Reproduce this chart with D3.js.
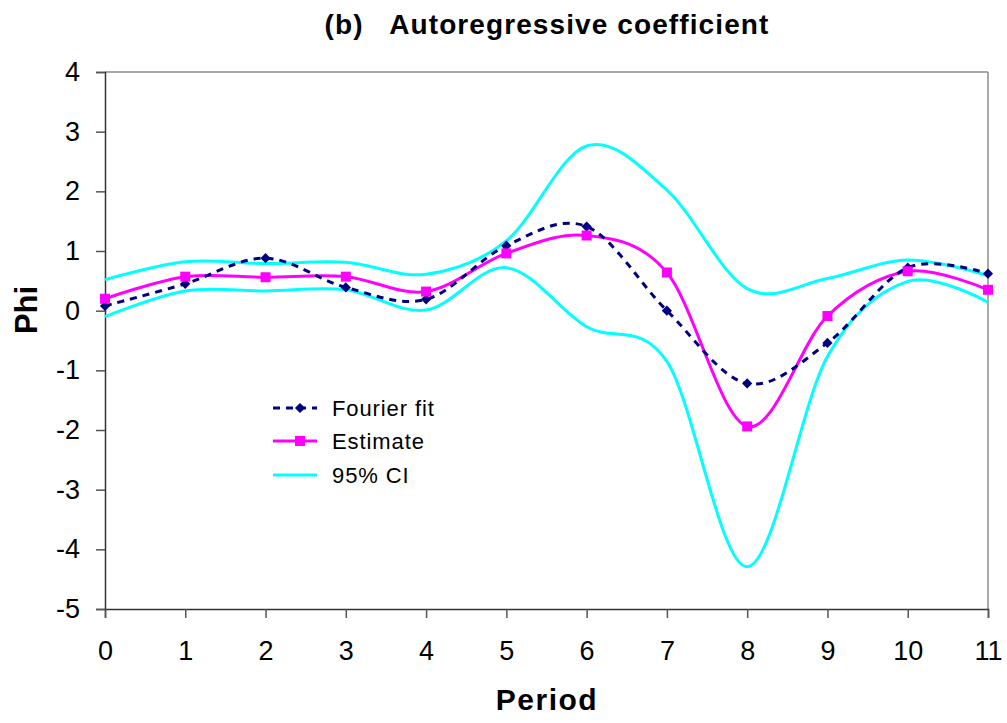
<!DOCTYPE html>
<html>
<head>
<meta charset="utf-8">
<script src="https://cdn.jsdelivr.net/npm/d3@7"></script>
<style>
  html, body { margin: 0; padding: 0; background: #fff; }
  svg { display: block; font-family: Arial, "Liberation Sans", sans-serif; }
</style>
</head>
<body>
<svg id="chart" width="1007" height="723"></svg>
<script>
// Periods on the x axis
const periods = [0, 1, 2, 3, 4, 5, 6, 7, 8, 9, 10, 11];
// Fourier fit of the autoregressive coefficient
const fourierFit = [0.08, 0.45, 0.88, 0.39, 0.19, 1.09, 1.41, 0.00, -1.22, -0.54, 0.72, 0.62];
// Period-by-period estimate
const estimate = [0.20, 0.57, 0.56, 0.57, 0.32, 0.96, 1.26, 0.64, -1.94, -0.09, 0.66, 0.35];
// 95% confidence band
const ciUpper = [0.52, 0.82, 0.79, 0.81, 0.61, 1.17, 2.76, 2.02, 0.37, 0.54, 0.85, 0.59];
const ciLower = [-0.10, 0.33, 0.33, 0.35, 0.01, 0.72, -0.27, -0.85, -4.29, -0.77, 0.49, 0.14];
// Axis ticks
const yTicks = [4, 3, 2, 1, 0, -1, -2, -3, -4, -5];
const xTicks = periods;

const svg = d3.select("#chart");
const plotLeft = 105, plotRight = 988, plotTop = 72, plotBottom = 609;

const x = d3.scaleLinear().domain([0, 11]).range([plotLeft, plotRight]);
const y = d3.scaleLinear().domain([-5, 4]).range([plotBottom, plotTop]);

// Plot frame: light top/right border
svg.append("line").attr("x1", plotLeft).attr("x2", plotRight).attr("y1", plotTop).attr("y2", plotTop)
  .attr("stroke", "#8c8c8c").attr("stroke-width", 1.5);
svg.append("line").attr("x1", plotRight).attr("x2", plotRight).attr("y1", plotTop).attr("y2", plotBottom)
  .attr("stroke", "#8c8c8c").attr("stroke-width", 1.5);

// Axes
const plain = d => String(d);
const yAxis = d3.axisLeft(y).tickValues(yTicks).tickSize(9).tickPadding(16).tickFormat(plain);
const xAxis = d3.axisBottom(x).tickValues(xTicks).tickSize(9).tickPadding(23).tickFormat(plain);

const gy = svg.append("g").attr("transform", `translate(${plotLeft},0)`).call(yAxis);
const gx = svg.append("g").attr("transform", `translate(0,${plotBottom})`).call(xAxis);
[gx, gy].forEach(g => {
  g.select(".domain").attr("stroke", "#333").attr("stroke-width", 1.5);
  g.selectAll(".tick line").attr("stroke", "#555").attr("stroke-width", 1.5);
  g.selectAll(".tick text").attr("fill", "#000").style("font-size", "27px")
    .style("font-family", "Arial, 'Liberation Sans', sans-serif");
});

// Smoothed line generator
const smooth = d3.line()
  .x((d, i) => x(periods[i]))
  .y(d => y(d))
  .curve(d3.curveCatmullRom.alpha(0));

const plot = svg.append("g");

// 95% CI band edges
[ciUpper, ciLower].forEach(series => {
  plot.append("path").datum(series).attr("d", smooth)
    .attr("fill", "none").attr("stroke", "#00ffff").attr("stroke-width", 3);
});

// Estimate
plot.append("path").datum(estimate).attr("d", smooth)
  .attr("fill", "none").attr("stroke", "#ff00ff").attr("stroke-width", 3);

// Fourier fit (dashed)
plot.append("path").datum(fourierFit).attr("d", smooth)
  .attr("fill", "none").attr("stroke", "#000080").attr("stroke-width", 3)
  .attr("stroke-dasharray", "7,6");

const diamond = d3.symbol().type(d3.symbolSquare).size(52);
const square = d3.symbol().type(d3.symbolSquare).size(100);

plot.selectAll(".fm").data(fourierFit).join("path")
  .attr("class", "fm")
  .attr("transform", (d, i) => `translate(${x(periods[i])},${y(d)}) rotate(45)`)
  .attr("d", diamond).attr("fill", "#000080");

plot.selectAll(".em").data(estimate).join("path")
  .attr("class", "em")
  .attr("transform", (d, i) => `translate(${x(periods[i])},${y(d)})`)
  .attr("d", square).attr("fill", "#ff00ff");

// Legend
const legend = svg.append("g");
const rows = [
  { label: "Fourier fit", color: "#000080", dash: "7,6", marker: diamond, rot: 45, y: 408 },
  { label: "Estimate", color: "#ff00ff", dash: null, marker: square, rot: 0, y: 441 },
  { label: "95% CI", color: "#00ffff", dash: null, marker: null, rot: 0, y: 475 }
];
rows.forEach(r => {
  legend.append("line").attr("x1", 273).attr("x2", 317).attr("y1", r.y).attr("y2", r.y)
    .attr("stroke", r.color).attr("stroke-width", 3)
    .attr("stroke-dasharray", r.dash);
  if (r.marker) {
    legend.append("path").attr("transform", `translate(300,${r.y}) rotate(${r.rot})`)
      .attr("d", r.marker).attr("fill", r.color);
  }
  legend.append("text").attr("x", 332).attr("y", r.y).attr("dy", "0.35em")
    .style("font-size", "22px").style("letter-spacing", "0.9px").attr("fill", "#000").text(r.label);
});

// Titles
svg.append("text").attr("x", 547).attr("y", 34).attr("text-anchor", "middle")
  .style("font-size", "28px").style("font-weight", "bold").style("letter-spacing", "1.1px")
  .style("white-space", "pre")
  .text("(b)   Autoregressive coefficient");

svg.append("text").attr("x", 547).attr("y", 710).attr("text-anchor", "middle")
  .style("font-size", "30px").style("font-weight", "bold").style("letter-spacing", "1.5px")
  .text("Period");

svg.append("text").attr("transform", "translate(37,310) rotate(-90)").attr("text-anchor", "middle")
  .style("font-size", "31px").style("font-weight", "bold").text("Phi");
</script>
</body>
</html>
